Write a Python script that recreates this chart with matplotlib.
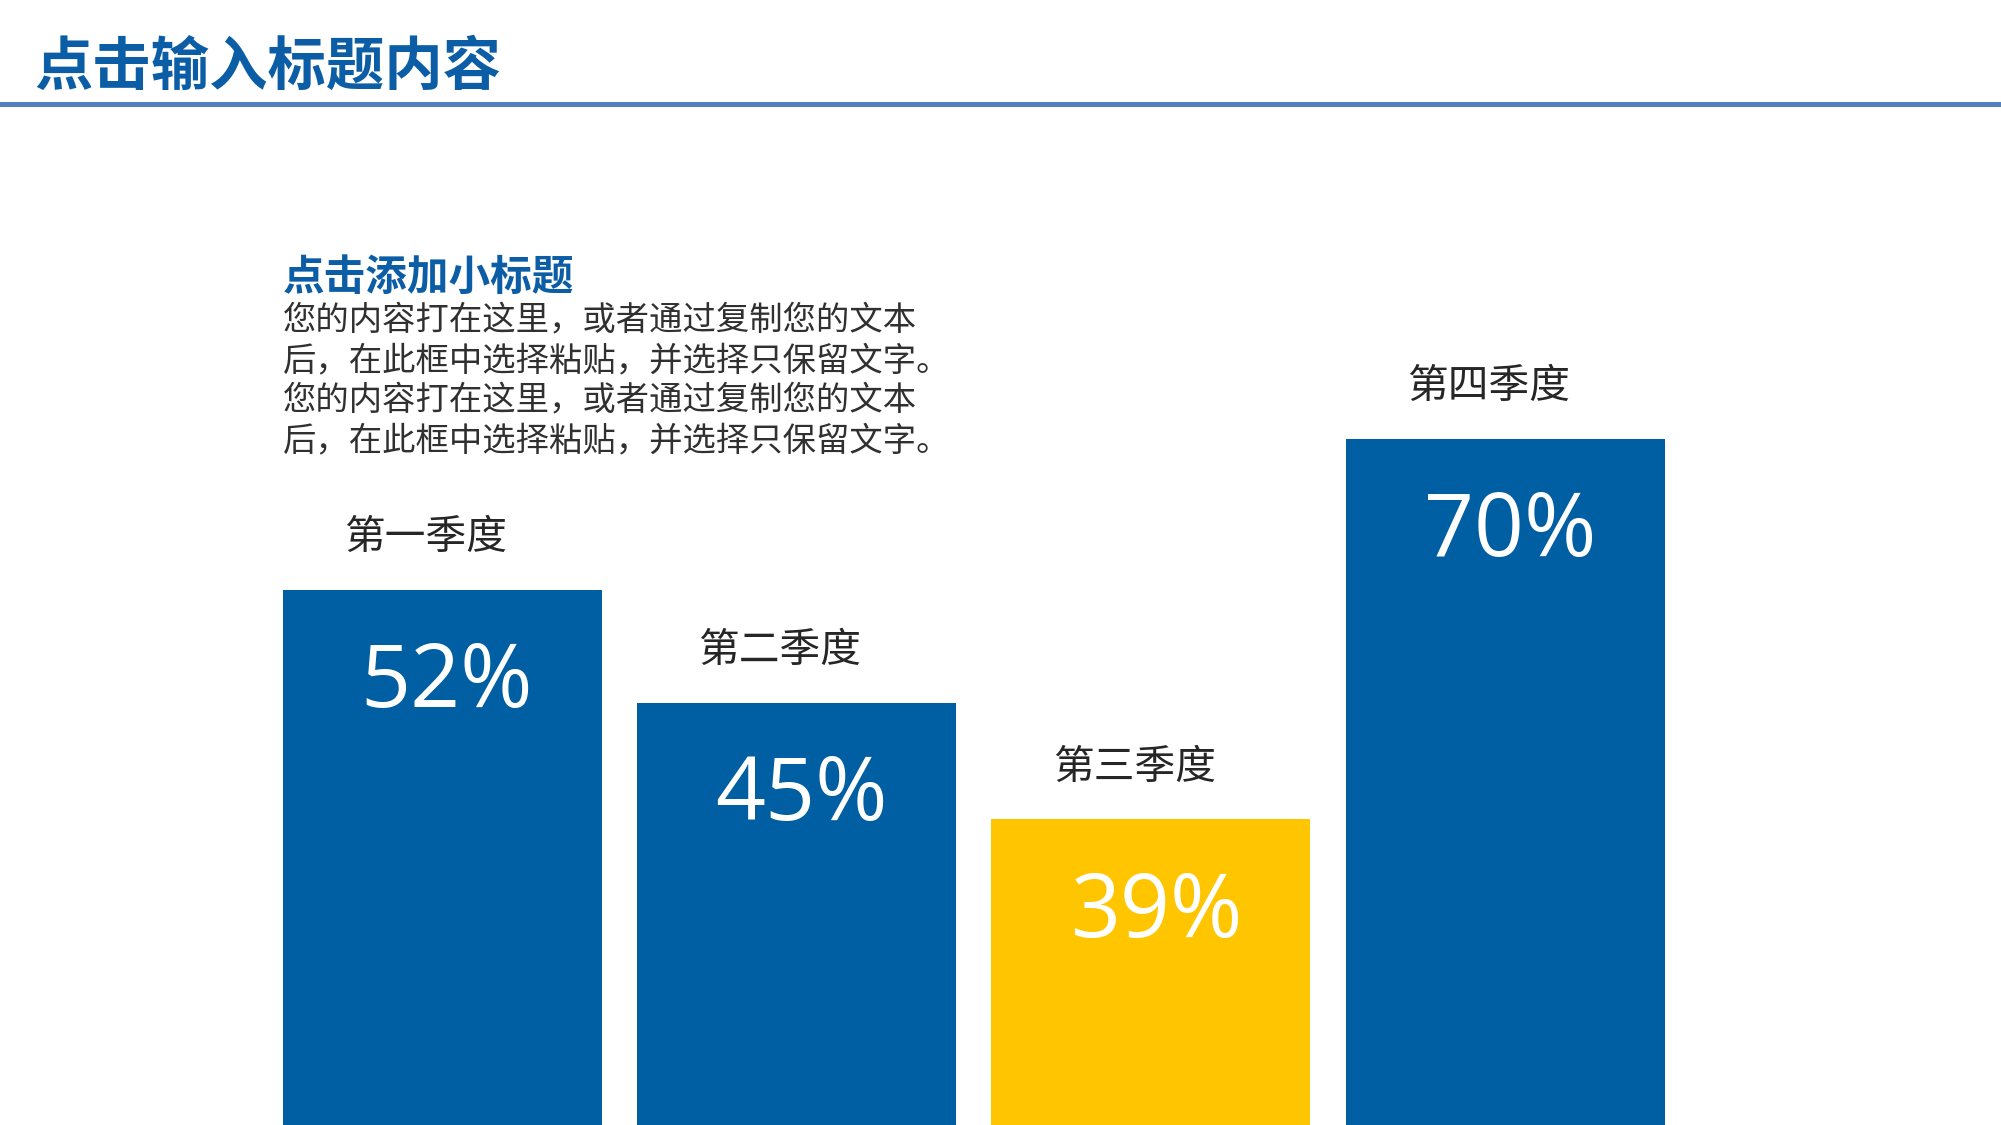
import matplotlib
matplotlib.use("Agg")
import matplotlib.pyplot as plt
from matplotlib.patches import Rectangle

plt.rcParams['font.family'] = ['Noto Sans CJK SC', 'DejaVu Sans']

# ---- data ----
categories = ["第一季度", "第二季度", "第三季度", "第四季度"]
values = [52, 45, 39, 70]              # printed percentages
bar_heights = [54.6, 43.1, 31.2, 70.0]  # drawn heights
bar_colors = ["#005EA3", "#005EA3", "#FFC600", "#005EA3"]
title = "点击输入标题内容"
subtitle = "点击添加小标题"
body_lines = [
    "您的内容打在这里，或者通过复制您的文本",
    "后，在此框中选择粘贴，并选择只保留文字。",
    "您的内容打在这里，或者通过复制您的文本",
    "后，在此框中选择粘贴，并选择只保留文字。",
]

W, H = 2001, 1125
fig = plt.figure(figsize=(W / 100, H / 100), dpi=100)
fig.patch.set_facecolor("white")


def fx(px):
    return px / W


def fy(py):
    return 1 - py / H


# title and rule
fig.text(fx(34), fy(68), title, fontsize=42, fontweight="bold",
         color="#0B5DA6", ha="left", va="center")
fig.add_artist(Rectangle((0, fy(107)), 1, (107 - 102) / H,
                         transform=fig.transFigure, color="#4F81BD", lw=0))

# text block
fig.text(fx(283), fy(278), subtitle, fontsize=30, fontweight="bold",
         color="#0B5DA6", ha="left", va="center")
for i, line in enumerate(body_lines):
    fig.text(fx(283), fy(321 + 40 * i), line, fontsize=24,
             color="#303030", ha="left", va="center")

# bar axes
ax_left, ax_right = 265, 1682.5
ax = fig.add_axes([fx(ax_left), 0, fx(ax_right) - fx(ax_left), 980 / H])
ax.set_xlim(-0.5, 3.5)
ax.set_ylim(0, 100)
ax.axis("off")

xs = list(range(len(categories)))
ax.bar(xs, bar_heights, width=0.9, color=bar_colors, linewidth=0)

for x, h, cat, v in zip(xs, bar_heights, categories, values):
    ax.annotate(cat, (x, h), xytext=(-12, 37.5), textcoords="offset points",
                ha="center", va="center", fontsize=29.3, color="#262626")
    ax.annotate(f"{v}%", (x, h), xytext=(3.5, -68), textcoords="offset points",
                ha="center", va="center", fontsize=63, color="white",
                family=["Open Sans", "DejaVu Sans"])

fig.savefig("out.png", dpi=100, facecolor="white")
